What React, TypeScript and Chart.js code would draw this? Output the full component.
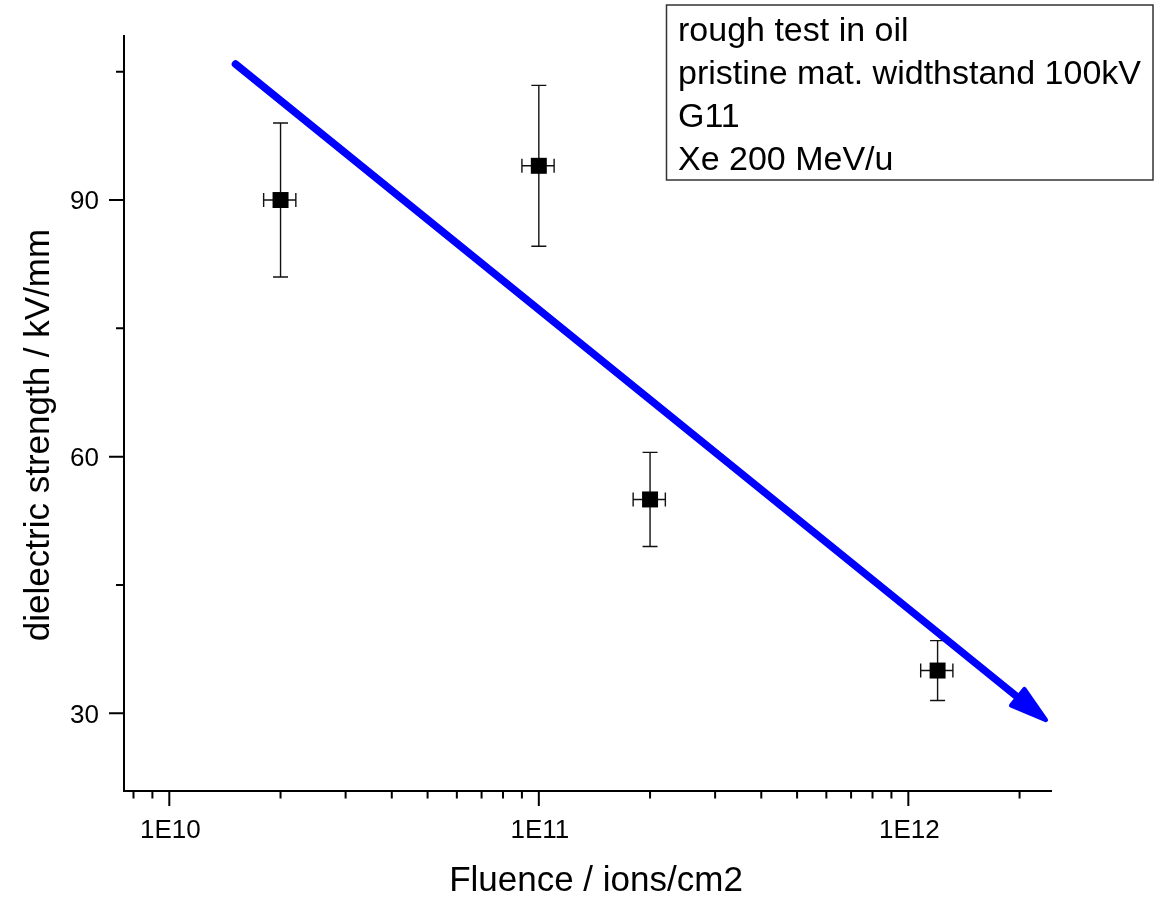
import React, { useEffect, useRef } from 'react';
import { Chart, registerables } from 'chart.js';

Chart.register(...registerables);

// ---- data ----
const fluence = [2e10, 1e11, 2e11, 1.2e12];
const fluenceErr = [2e9, 1e10, 2e10, 1.2e11];
const strength = [90, 94, 55, 35];
const strengthErr = [9, 9.4, 5.5, 3.5];

const xMin = 7.54e9;
const xMax = 2.448e12;
const yMin = 20.92;
const yMax = 109.29;

const xMajorTicks = [1e10, 1e11, 1e12];
const xTickLabels = ['1E10', '1E11', '1E12'];
const xMinorTicks = [
  8e9, 9e9,
  2e10, 3e10, 4e10, 5e10, 6e10, 7e10, 8e10, 9e10,
  2e11, 3e11, 4e11, 5e11, 6e11, 7e11, 8e11, 9e11,
  2e12,
];
const yMajorTicks = [30, 60, 90];
const yTickLabels = ['30', '60', '90'];
const yMinorTicks = [45, 75, 105];

const arrowFrom = [1.51e10, 105.9];
const arrowTo = [2.39e12, 29.0];

const noteLines = [
  'rough test in oil',
  'pristine mat. widthstand 100kV',
  'G11',
  'Xe 200 MeV/u',
];
const xTitle = 'Fluence / ions/cm2';
const yTitle = 'dielectric strength / kV/mm';

const FONT = '"Liberation Sans", Arial, Helvetica, sans-serif';

const drawPlugin = {
  id: 'origin-style',
  beforeDatasetsDraw(chart: any) {
    const ctx = chart.ctx;
    const xs = chart.scales.x;
    const ys = chart.scales.y;
    ctx.save();
    ctx.strokeStyle = '#111';
    ctx.lineWidth = 1.4;
    for (let i = 0; i < fluence.length; i++) {
      const px = xs.getPixelForValue(fluence[i]);
      const py = ys.getPixelForValue(strength[i]);
      const yTop = ys.getPixelForValue(strength[i] + strengthErr[i]);
      const yBot = ys.getPixelForValue(strength[i] - strengthErr[i]);
      const xL = xs.getPixelForValue(fluence[i] - fluenceErr[i]);
      const xR = xs.getPixelForValue(fluence[i] + fluenceErr[i]);
      ctx.beginPath();
      ctx.moveTo(px, yTop);
      ctx.lineTo(px, yBot);
      ctx.moveTo(px - 7.5, yTop);
      ctx.lineTo(px + 7.5, yTop);
      ctx.moveTo(px - 7.5, yBot);
      ctx.lineTo(px + 7.5, yBot);
      ctx.moveTo(xL, py);
      ctx.lineTo(xR, py);
      ctx.moveTo(xL, py - 7);
      ctx.lineTo(xL, py + 7);
      ctx.moveTo(xR, py - 7);
      ctx.lineTo(xR, py + 7);
      ctx.stroke();
    }
    ctx.restore();
  },
  afterDatasetsDraw(chart: any) {
    const ctx = chart.ctx;
    const xs = chart.scales.x;
    const ys = chart.scales.y;
    const ca = chart.chartArea;
    ctx.save();

    // axes
    ctx.strokeStyle = '#000';
    ctx.lineWidth = 2;
    ctx.lineCap = 'butt';
    ctx.beginPath();
    ctx.moveTo(ca.left, ca.top);
    ctx.lineTo(ca.left, ca.bottom);
    ctx.moveTo(ca.left - 1, ca.bottom);
    ctx.lineTo(ca.right, ca.bottom);
    ctx.stroke();

    // x ticks
    ctx.beginPath();
    xMajorTicks.forEach((v) => {
      const p = xs.getPixelForValue(v);
      ctx.moveTo(p, ca.bottom);
      ctx.lineTo(p, ca.bottom + 15);
    });
    xMinorTicks.forEach((v) => {
      const p = xs.getPixelForValue(v);
      ctx.moveTo(p, ca.bottom);
      ctx.lineTo(p, ca.bottom + 7.5);
    });
    // y ticks
    yMajorTicks.forEach((v) => {
      const p = ys.getPixelForValue(v);
      ctx.moveTo(ca.left, p);
      ctx.lineTo(ca.left - 15, p);
    });
    yMinorTicks.forEach((v) => {
      const p = ys.getPixelForValue(v);
      ctx.moveTo(ca.left, p);
      ctx.lineTo(ca.left - 8, p);
    });
    ctx.stroke();

    // tick labels
    ctx.fillStyle = '#000';
    ctx.font = `26px ${FONT}`;
    ctx.textBaseline = 'alphabetic';
    ctx.textAlign = 'center';
    xMajorTicks.forEach((v, i) => {
      const p = xs.getPixelForValue(v);
      ctx.fillText(xTickLabels[i], p + 1, ca.bottom + 47);
    });
    ctx.textAlign = 'right';
    yMajorTicks.forEach((v, i) => {
      const p = ys.getPixelForValue(v);
      ctx.fillText(yTickLabels[i], ca.left - 25, p + 9.3);
    });

    // axis titles
    ctx.font = `35px ${FONT}`;
    ctx.textAlign = 'center';
    ctx.fillText(xTitle, (ca.left + ca.right) / 2 + 8, 891);
    ctx.save();
    ctx.translate(49, 435);
    ctx.rotate(-Math.PI / 2);
    ctx.fillText(yTitle, 0, 0);
    ctx.restore();

    // note box
    ctx.font = `34px ${FONT}`;
    ctx.strokeStyle = '#333';
    ctx.lineWidth = 1.5;
    ctx.strokeRect(666.5, 5, 486.5, 175);
    ctx.textAlign = 'left';
    noteLines.forEach((t, i) => {
      ctx.fillText(t, 678, 41 + 43 * i);
    });

    // arrow
    const x0 = xs.getPixelForValue(arrowFrom[0]);
    const y0 = ys.getPixelForValue(arrowFrom[1]);
    const x1 = xs.getPixelForValue(arrowTo[0]);
    const y1 = ys.getPixelForValue(arrowTo[1]);
    const dx = x1 - x0;
    const dy = y1 - y0;
    const len = Math.hypot(dx, dy);
    const ux = dx / len;
    const uy = dy / len;
    const nx = -uy;
    const ny = ux;
    const tipX = x1 - ux * 3;
    const tipY = y1 - uy * 3;
    const headLen = 36;
    const headHalf = 10.5;
    const bx = tipX - ux * headLen;
    const by = tipY - uy * headLen;
    ctx.strokeStyle = '#0000ff';
    ctx.fillStyle = '#0000ff';
    ctx.lineWidth = 7.5;
    ctx.lineCap = 'round';
    ctx.beginPath();
    ctx.moveTo(x0, y0);
    ctx.lineTo(bx + ux * 4, by + uy * 4);
    ctx.stroke();
    ctx.lineWidth = 4.5;
    ctx.lineJoin = 'round';
    ctx.beginPath();
    ctx.moveTo(tipX, tipY);
    ctx.lineTo(bx + nx * headHalf, by + ny * headHalf);
    ctx.lineTo(bx - nx * headHalf, by - ny * headHalf);
    ctx.closePath();
    ctx.fill();
    ctx.stroke();

    ctx.restore();
  },
};

export default function App() {
  const canvasRef = useRef<HTMLCanvasElement | null>(null);

  useEffect(() => {
    const canvas = canvasRef.current;
    if (!canvas) return;
    const chart = new Chart(canvas, {
      type: 'scatter',
      data: {
        datasets: [
          {
            data: fluence.map((x, i) => ({ x, y: strength[i] })),
            pointStyle: 'rect',
            pointRadius: 11.3,
            backgroundColor: '#000',
            borderColor: '#000',
            borderWidth: 0,
          },
        ],
      },
      options: {
        responsive: false,
        animation: false,
        devicePixelRatio: 1,
        events: [],
        layout: { padding: { left: 124, right: 102, top: 35, bottom: 106 } },
        scales: {
          x: { type: 'logarithmic', min: xMin, max: xMax, display: false },
          y: { type: 'linear', min: yMin, max: yMax, display: false },
        },
        plugins: {
          legend: { display: false },
          tooltip: { enabled: false },
          title: { display: false },
        },
      },
      plugins: [drawPlugin],
    } as any);
    return () => chart.destroy();
  }, []);

  return (
    <div style={{ position: 'absolute', left: 0, top: 0, width: 1154, height: 897, background: '#fff' }}>
      <canvas ref={canvasRef} width={1154} height={897} style={{ display: 'block' }} />
    </div>
  );
}
